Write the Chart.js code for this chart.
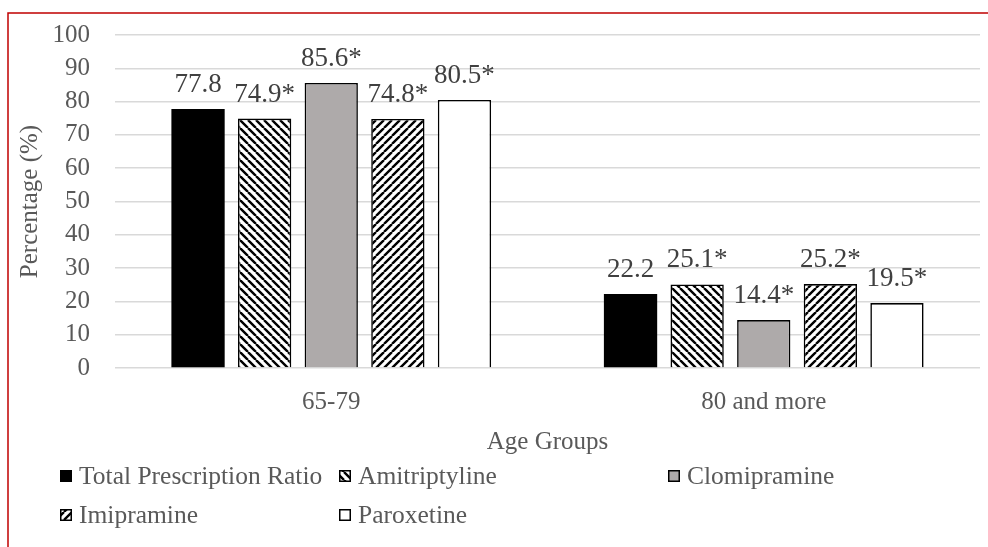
<!DOCTYPE html>
<html>
<head>
<meta charset="utf-8">
<script src="https://cdn.jsdelivr.net/npm/chart.js@4/dist/chart.umd.min.js"></script>
<style>
  html, body { margin: 0; padding: 0; background: #fff; }
  #wrap { position: relative; width: 988px; height: 547px; }
</style>
</head>
<body>
<div id="wrap"><canvas id="c" width="988" height="547"></canvas></div>
<script>
// Share of prescriptions by age group (%)
const ageGroups = ['65-79', '80 and more'];
const seriesNames = ['Total Prescription Ratio', 'Amitriptyline', 'Clomipramine', 'Imipramine', 'Paroxetine'];
const totalRatio = [77.8, 22.2];
const amitriptyline = [74.9, 25.1];
const clomipramine = [85.6, 14.4];
const imipramine = [74.8, 25.2];
const paroxetine = [80.5, 19.5];
const starred = [false, true, true, true, true];   // series marked with *
const yTickValues = [0, 10, 20, 30, 40, 50, 60, 70, 80, 90, 100];

const SERIF = '"Liberation Serif", "Times New Roman", serif';
const TEXT_GRAY = '#595959';

function hatch(direction) {
  const size = 8;
  const c = document.createElement('canvas');
  c.width = size; c.height = size;
  const g = c.getContext('2d');
  g.fillStyle = '#fff';
  g.fillRect(0, 0, size, size);
  g.strokeStyle = '#000';
  g.lineWidth = 2.4;
  g.beginPath();
  for (const k of [-size, 0, size]) {
    if (direction === 'down') { g.moveTo(k, 0); g.lineTo(k + size, size); }
    else { g.moveTo(k, size); g.lineTo(k + size, 0); }
  }
  g.stroke();
  return g.createPattern(c, 'repeat');
}

const fills = ['#000000', hatch('down'), '#AEAAAA', hatch('up'), '#FFFFFF'];
const values = [totalRatio, amitriptyline, clomipramine, imipramine, paroxetine];

const datasets = seriesNames.map((name, i) => ({
  label: name,
  data: values[i],
  backgroundColor: fills[i],
  borderColor: '#000',
  borderWidth: i === 0 ? 0 : 1.6,
  categoryPercentage: 0.77,
  barPercentage: 0.8,
  starred: starred[i]
}));

const framePlugin = {
  id: 'frame',
  beforeDraw(chart) {
    const ctx = chart.ctx;
    ctx.save();
    ctx.fillStyle = '#fff';
    ctx.fillRect(0, 0, chart.width, chart.height);
    ctx.strokeStyle = '#C00000';
    ctx.lineWidth = 1.5;
    ctx.beginPath();
    ctx.moveTo(8, chart.height);
    ctx.lineTo(8, 13);
    ctx.lineTo(chart.width, 13);
    ctx.stroke();
    ctx.restore();
  }
};

const valueLabelPlugin = {
  id: 'valueLabels',
  afterDatasetsDraw(chart) {
    const ctx = chart.ctx;
    ctx.save();
    ctx.font = '27px ' + SERIF;
    ctx.fillStyle = '#404040';
    ctx.textAlign = 'center';
    ctx.textBaseline = 'alphabetic';
    chart.data.datasets.forEach((ds, di) => {
      const meta = chart.getDatasetMeta(di);
      meta.data.forEach((bar, j) => {
        const txt = ds.data[j].toFixed(1) + (ds.starred ? '*' : '');
        ctx.fillText(txt, bar.x, bar.y - 17);
      });
    });
    ctx.restore();
  }
};

const legendPlugin = {
  id: 'gridLegend',
  afterDraw(chart) {
    const ctx = chart.ctx;
    const slots = [[60, 476], [339, 476], [668, 476], [60, 515], [339, 515]];
    ctx.save();
    ctx.font = '25.5px ' + SERIF;
    ctx.textBaseline = 'middle';
    ctx.textAlign = 'left';
    chart.data.datasets.forEach((ds, i) => {
      const [x, y] = slots[i];
      const s = 12;
      ctx.fillStyle = ds.backgroundColor;
      ctx.fillRect(x, y - s / 2, s, s);
      if (i > 0) {
        ctx.strokeStyle = '#000';
        ctx.lineWidth = 1.5;
        ctx.strokeRect(x + 0.75, y - s / 2 + 0.75, s - 1.5, s - 1.5);
      }
      ctx.fillStyle = TEXT_GRAY;
      ctx.fillText(ds.label, x + 19, y + 1);
    });
    ctx.restore();
  }
};

new Chart(document.getElementById('c'), {
  type: 'bar',
  data: { labels: ageGroups, datasets },
  plugins: [framePlugin, valueLabelPlugin, legendPlugin],
  options: {
    responsive: false,
    animation: false,
    devicePixelRatio: 1,
    layout: { padding: { left: 0, top: 35, right: 8, bottom: 0 } },
    plugins: { legend: { display: false }, tooltip: { enabled: false } },
    scales: {
      x: {
        grid: { display: false, drawTicks: false },
        border: { display: false },
        ticks: { font: { family: SERIF, size: 25 }, color: TEXT_GRAY, padding: 19 },
        title: {
          display: true, text: 'Age Groups',
          font: { family: SERIF, size: 25 }, color: TEXT_GRAY,
          padding: { top: 0, bottom: 90 }
        },
        afterFit(scale) { scale.height = 179; }
      },
      y: {
        min: 0, max: 100,
        afterBuildTicks(scale) { scale.ticks = yTickValues.map(v => ({ value: v })); },
        grid: { color: '#D9D9D9', lineWidth: 1.5, drawTicks: false },
        border: { display: false },
        ticks: { font: { family: SERIF, size: 25 }, color: TEXT_GRAY, padding: 25, autoSkip: false, stepSize: 10 },
        title: {
          display: true, text: 'Percentage (%)',
          font: { family: SERIF, size: 25 }, color: TEXT_GRAY,
          padding: { top: 15, bottom: 0 }
        },
        afterFit(scale) {
          scale.width = 115;
          scale.paddingTop = 10;
          scale.paddingBottom = 10;
        }
      }
    }
  }
});
</script>
</body>
</html>
